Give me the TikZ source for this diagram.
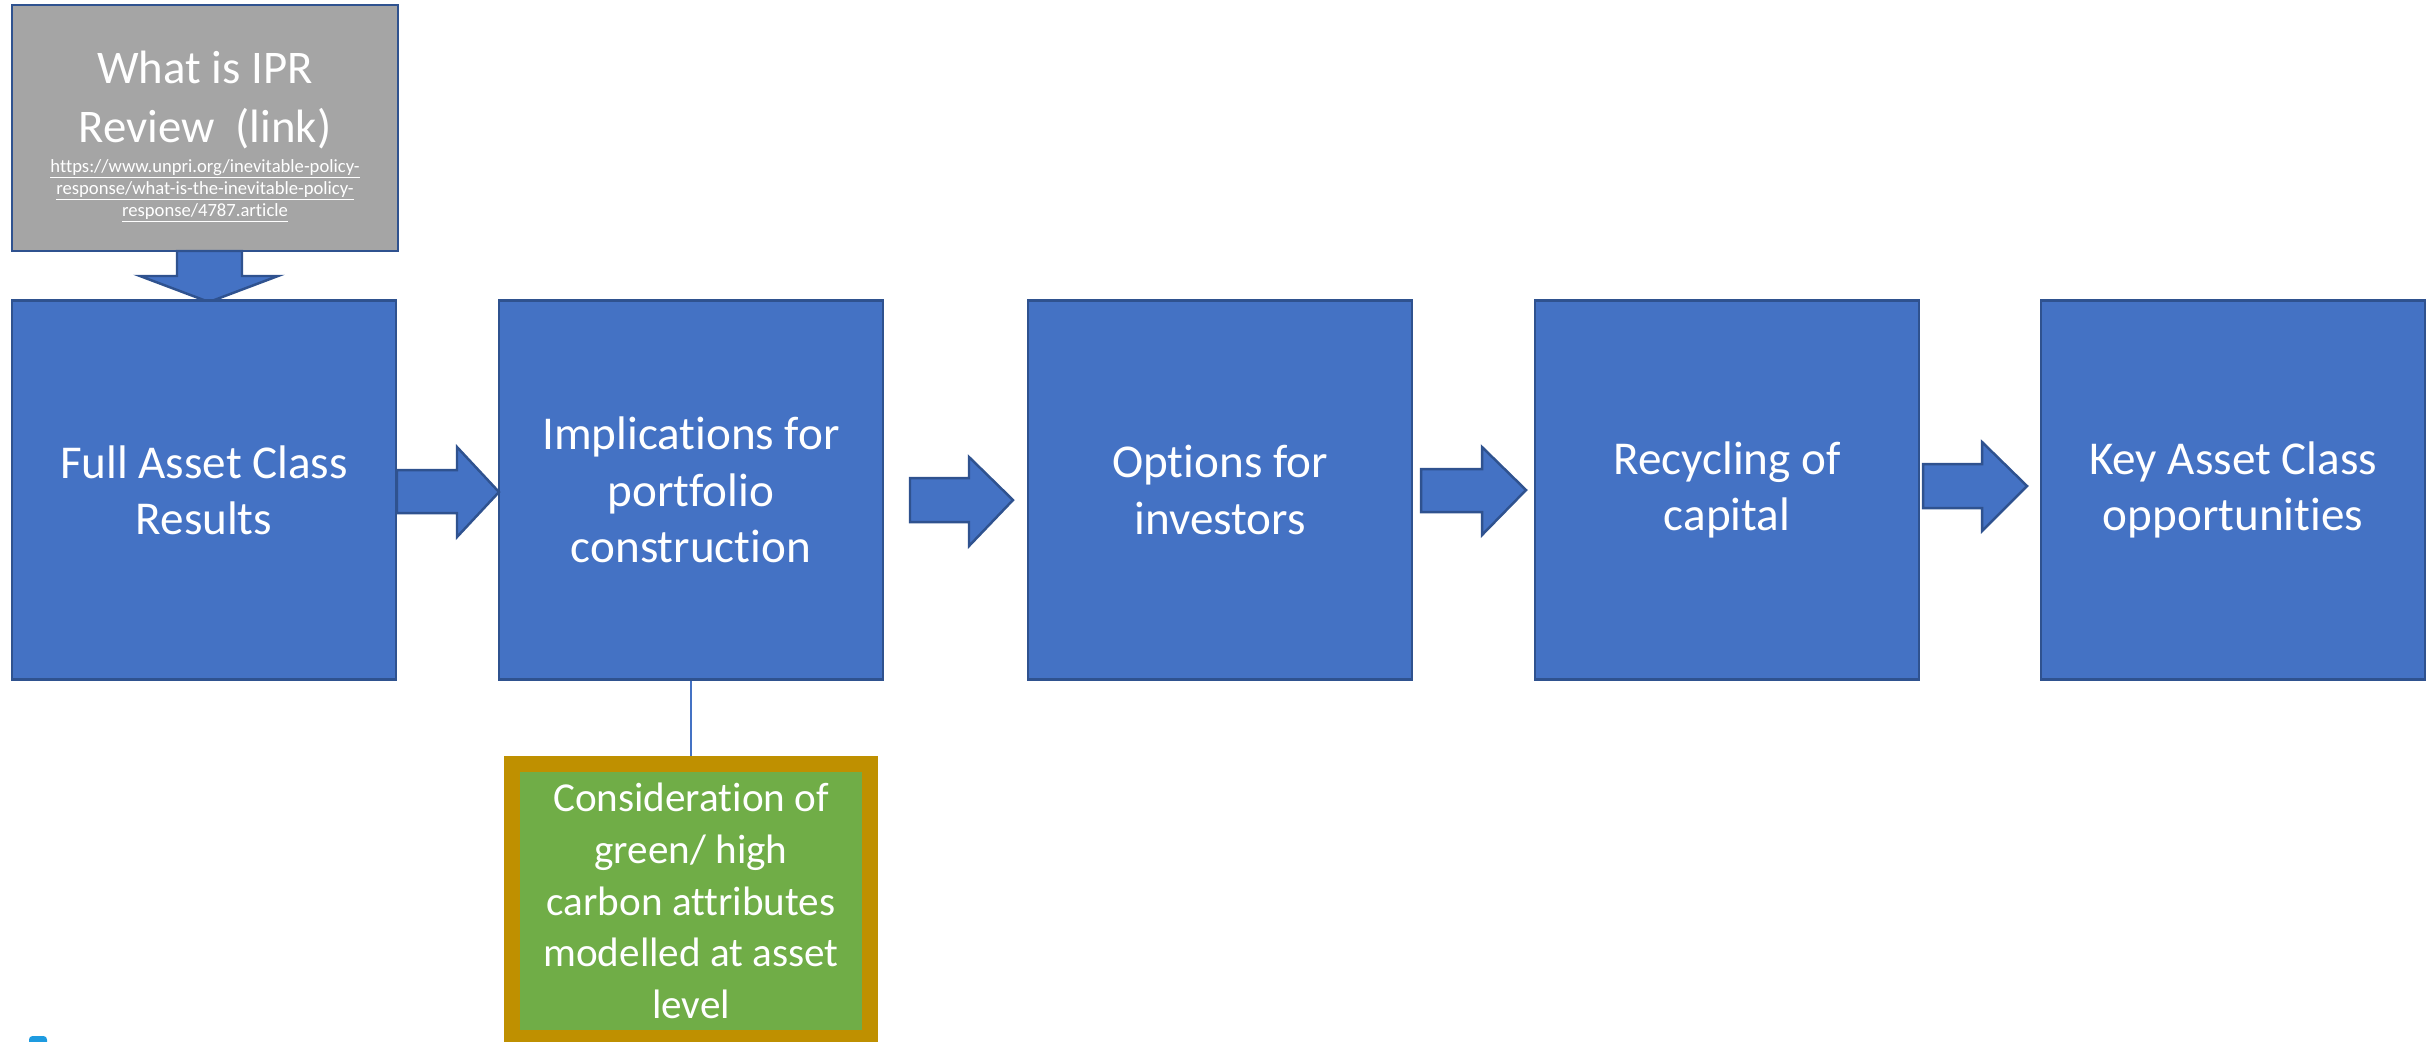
\documentclass[tikz,border=0pt]{standalone}
\usepackage{fontspec}
\setmainfont{Carlito}[RawFeature={-liga;-clig;-calt;-dlig}]
\definecolor{boxblue}{HTML}{4472C4}
\definecolor{edgeblue}{HTML}{2F528F}
\definecolor{iprgrey}{HTML}{A5A5A5}
\definecolor{leafgreen}{HTML}{70AD47}
\definecolor{goldedge}{HTML}{BF9000}
\definecolor{tabcyan}{HTML}{1E9BE0}
\newcommand{\linkline}[1]{\underline{\smash{#1}}}

\begin{document}
\begin{tikzpicture}[x=0.01cm,y=-0.01cm]
\tikzstyle{every node}+=[inner sep=0pt]
\tikzstyle{stage}=[draw=edgeblue, fill=boxblue, line width=0.7pt, minimum width=3.84cm, minimum height=3.79cm, text=white, align=center, font=\fontsize{13.4}{16}\selectfont]
\tikzstyle{blockarrow}=[draw=edgeblue, fill=boxblue, line width=0.7pt, line join=miter]
\useasboundingbox (0,0) rectangle (2428,1041);

% link box on top
\node [draw=edgeblue, fill=iprgrey, line width=0.7pt, minimum width=3.86cm, minimum height=2.46cm] (ipr) at (205,128) {};
\node [text=white, align=center, font=\fontsize{13.3}{16.8}\selectfont] (iprtitle) at (205,100) {What is IPR\\Review\ \ (link)};
\node [text=white, align=center, font=\fontsize{5.3}{6.3}\selectfont] (iprlink) at (205,198) {\linkline{https://www.unpri.org/inevitable-policy-}\\\linkline{response/what-is-the-inevitable-policy-}\\\linkline{response/4787.article}};
\draw [blockarrow] (177,251) -- (242,251) -- (242,276) -- (278,276) -- (209,302) -- (140,276) -- (177,276) -- cycle;

% main row
\node [stage] (b1) at (204,490) {Full Asset Class\\Results};
\node [stage] (b2) at (691,490) {Implications for\\portfolio\\construction};
\node [stage] (b3) at (1220,490) {Options for\\investors};
\node [stage] (b4) at (1727,490) {Recycling of\\capital};
\node [stage] (b5) at (2233,490) {Key Asset Class\\opportunities};

\draw [blockarrow] (397,470) -- (457,470) -- (457,447) -- (499,492) -- (457,537) -- (457,513) -- (397,513) -- cycle;
\draw [blockarrow] (910,478) -- (969,478) -- (969,457) -- (1013,500) -- (969,546) -- (969,522) -- (910,522) -- cycle;
\draw [blockarrow] (1421,469) -- (1482,469) -- (1482,447) -- (1526,490) -- (1482,535) -- (1482,512) -- (1421,512) -- cycle;
\draw [blockarrow] (1923,464) -- (1982,464) -- (1982,442) -- (2027,486) -- (1982,531) -- (1982,508) -- (1923,508) -- cycle;

% note under portfolio box
\draw [boxblue, line width=0.5pt] (b2.south) -- (691,760);
\node [draw=goldedge, fill=leafgreen, line width=0.16cm, minimum width=3.58cm, minimum height=2.74cm, text=white, align=center, font=\fontsize{11.7}{14.7}\selectfont] (note) at (691,901) {Consideration of\\green/ high\\carbon attributes\\modelled at asset\\level};

\fill [tabcyan, rounded corners=1pt] (29,1036) rectangle (47,1050);
\end{tikzpicture}
\end{document}
